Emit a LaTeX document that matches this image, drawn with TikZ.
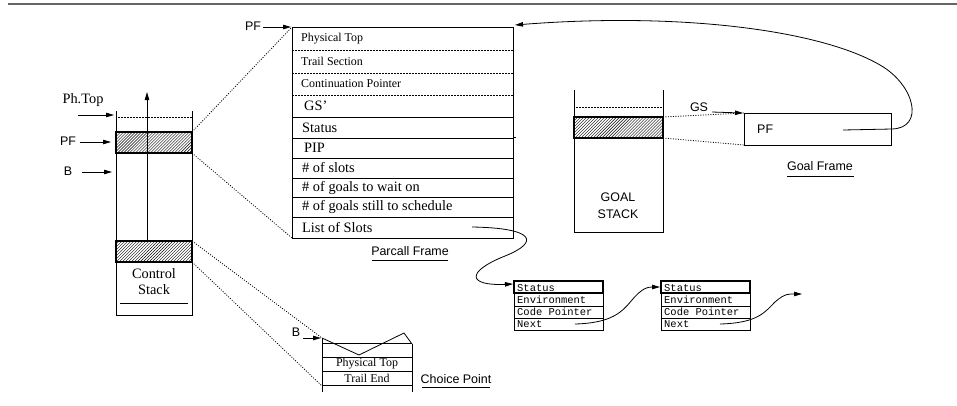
\documentclass[tikz,border=0pt]{standalone}
\usepackage{fontspec}
\setmainfont{Liberation Serif}
\setsansfont{Liberation Sans}
\setmonofont{Liberation Mono}
\usetikzlibrary{patterns,arrows.meta}
\tikzset{
  ln/.style={line width=0.8bp},
  arr/.style={line width=0.8bp,-{Triangle[length=8bp,width=4.5bp]}},
  dotl/.style={line width=0.8bp,dash pattern=on 1bp off 1.5bp},
  rowdot/.style={line width=0.8bp,dash pattern=on 1.5bp off 1.5bp},
  hatch/.style={pattern=north east lines,draw,line width=1.1bp},
  sans/.style={font=\fontsize{12.5}{14}\sffamily,inner sep=0pt},
  serif/.style={font=\fontsize{14.4}{16}\selectfont,inner sep=0pt},
  small/.style={font=\fontsize{12}{14}\selectfont,inner sep=0pt},
  mono/.style={font=\fontsize{10.5}{12}\ttfamily,inner sep=0pt},
}
\begin{document}
\begin{tikzpicture}[x=1bp,y=-1bp]
\useasboundingbox (0,0) rectangle (957,405);
\draw[line width=2bp,black!60] (8,4) -- (957,4);

% ---------- Control stack ----------
\draw[ln] (116,111) -- (116,315) -- (192,315) -- (192,111);
\draw[rowdot] (118,117) -- (192,117);
\draw[hatch] (116,132) rectangle (192,153);
\draw[hatch] (116,241) rectangle (192,262);
\coordinate (csA) at (192,132);
\coordinate (csB) at (192,153);
\coordinate (csC) at (192,241);
\coordinate (csD) at (192,262);
\coordinate (growS) at (147,240);
\coordinate (growE) at (147,92);
\draw[arr] (growS) -- (growE);
\node[serif,align=center] (cstack) at (154,282) {Control\\Stack};
\draw[ln] (120,303) -- (188,303);

\node[serif] (phtop) at (83,100) {Ph.Top};
\coordinate (phS) at (78,115); \coordinate (phE) at (114,115);
\draw[arr] (phS) -- (phE);
\node[sans] (pfl) at (68,141) {PF};
\coordinate (pfS) at (80,142); \coordinate (pfE) at (111,142);
\draw[arr] (pfS) -- (pfE);
\node[sans] (bl) at (68,171) {B};
\coordinate (bS) at (82,172); \coordinate (bE) at (112,172);
\draw[arr] (bS) -- (bE);

% ---------- Parcall frame ----------
\draw[ln] (292,27) -- (513,27);
\draw[ln] (292,27) -- (292,238) -- (513,238) -- (513,27);
\foreach \y in {50,73,95} \draw[rowdot] (292,\y) -- (513,\y);
\foreach \y in {117,138,158,178,197,217} \draw[ln] (292,\y) -- (513,\y);
\draw[ln] (513,137) -- (516,137);
\node[small,anchor=west] (p1) at (301,38.5) {Physical Top};
\node[small,anchor=west] (p2) at (301,61.5) {Trail Section};
\node[small,anchor=west] (p3) at (301,84) {Continuation Pointer};
\node[serif,anchor=west] (p4) at (304,106) {GS'};
\node[serif,anchor=west] (p5) at (302,127.5) {Status};
\node[serif,anchor=west] (p6) at (304,148) {PIP};
\node[serif,anchor=west] (p7) at (302,168) {\# of slots};
\node[serif,anchor=west] (p8) at (302,187.5) {\# of goals to wait on};
\node[serif,anchor=west] (p9) at (302,207) {\# of goals still to schedule};
\node[serif,anchor=west] (p10) at (302,227.5) {List of Slots};
\coordinate (pfTL) at (292,27);
\coordinate (pfBL) at (292,238);
\coordinate (pfTR) at (515,25);
\node[sans] (pcl) at (410,251) {Parcall Frame};
\draw[ln] (372,260) -- (448,260);
\node[sans] (pftop) at (253,26) {PF};
\coordinate (pftS) at (263,27); \coordinate (pftE) at (291,27);
\draw[arr] (pftS) -- (pftE);

\draw[dotl] (csA) -- (pfTL);
\draw[dotl] (csB) -- (pfBL);

% ---------- Goal stack ----------
\draw[ln] (574,90) -- (574,232) -- (663,232) -- (663,90);
\draw[rowdot] (576,107) -- (663,107);
\draw[hatch] (574,117) rectangle (663,138);
\node[sans,align=center] (gstack) at (618,206) {GOAL\\[3bp]STACK};
\coordinate (gsA) at (663,117);
\coordinate (gsB) at (663,138);

% ---------- Goal frame ----------
\draw[ln] (744,113) rectangle (891,145);
\coordinate (gfA) at (744,113);
\coordinate (gfB) at (744,145);
\node[sans,anchor=west] (gfpf) at (757,129) {PF};
\node[sans] (gfl) at (820,166) {Goal Frame};
\draw[ln] (787,176) -- (854,176);
\node[sans] (gsl) at (699,107) {GS};
\coordinate (gsS) at (712,112); \coordinate (gsE) at (743,113);
\draw[arr] (gsS) -- (gsE);
\draw[dotl] (gsA) -- (gfA);
\draw[dotl] (gsB) -- (gfB);
\coordinate (gfP) at (843,130);
\draw[arr] (gfP) -- (892,129) .. controls (925,128) and (915,85) .. (880,65)
   .. controls (820,30) and (680,12) .. (pfTR);

% ---------- Slot boxes ----------
\foreach \x/\n in {514/s1,661/s2}{
  \draw[ln] (\x,281) rectangle (\x+89,330);
  \draw[line width=1.1bp] (\x,281) rectangle (\x+89,293);
  \foreach \y in {306,318} \draw[ln] (\x,\y) -- (\x+89,\y);
  \node[mono,anchor=west] (\n a) at (\x+3,288) {Status};
  \node[mono,anchor=west] (\n b) at (\x+3,300) {Environment};
  \node[mono,anchor=west] (\n c) at (\x+3,312) {Code Pointer};
  \node[mono,anchor=west] (\n d) at (\x+3,324) {Next};
}
\coordinate (lsS) at (472,227);
\coordinate (s1in) at (513,284);
\draw[arr] (lsS) .. controls (535,228) and (540,242) .. (505,256)
   .. controls (465,272) and (468,286) .. (s1in);
\coordinate (n1S) at (575,324);
\coordinate (s2in) at (660,287);
\draw[arr] (n1S) .. controls (612,323) and (622,312) .. (632,300)
   .. controls (642,288) and (648,287) .. (s2in);
\coordinate (n2S) at (720,324);
\coordinate (n3E) at (802,294);
\draw[arr] (n2S) .. controls (758,323) and (765,312) .. (775,302)
   .. controls (785,293) and (790,294) .. (n3E);

% ---------- Choice point ----------
\draw[ln] (322,338) -- (322,392);
\draw[ln] (412,344) -- (412,392);
\draw[ln] (322,338) -- (359,355) -- (404,333) -- (412,344);
\foreach \y in {343,357,371,385} \draw[ln] (322,\y) -- (412,\y);
\node[small] (c1) at (367,364) {Physical Top};
\node[small] (c2) at (367,378) {Trail End};
\node[sans] (cpl) at (456,379) {Choice Point};
\draw[ln] (422,387) -- (490,387);
\node[sans] (cpb) at (296,332) {B};
\coordinate (cbS) at (303,338); \coordinate (cbE) at (321,338);
\draw[arr] (cbS) -- (cbE);
\coordinate (cpA) at (322,338);
\coordinate (cpB) at (322,386);
\draw[dotl] (csC) -- (cpA);
\draw[dotl] (csD) -- (cpB);
\end{tikzpicture}
\end{document}
